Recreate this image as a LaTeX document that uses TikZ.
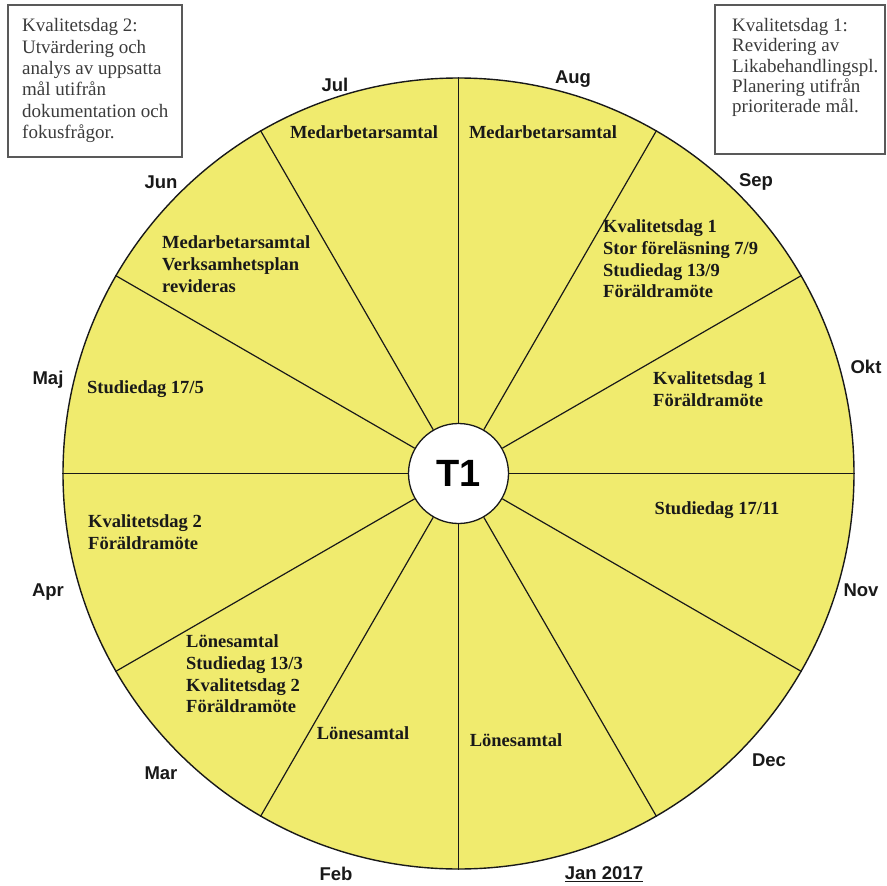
\documentclass[tikz,border=0pt]{standalone}
\usepackage{fontspec}
\setmainfont{Liberation Serif}
\setsansfont{Liberation Sans}
\definecolor{wheelyellow}{RGB}{240,235,110}
\definecolor{inkc}{RGB}{25,25,25}
\tikzset{
  monthlbl/.style={font=\sffamily\bfseries\fontsize{18.5}{22}\selectfont, text=inkc, inner sep=0pt},
  sectortxt/.style={font=\bfseries\fontsize{18.5}{21.7}\selectfont, text=inkc, inner sep=0pt, align=left},
  boxtxt/.style={font=\fontsize{19}{21.4}\selectfont, text=inkc!85, inner sep=0pt, align=left, anchor=north west},
  notebox/.style={draw=black!65, line width=2pt},
  spoke/.style={draw=inkc, line width=1.2pt}
}
\begin{document}
\begin{tikzpicture}[x=1pt,y=-1pt]
\useasboundingbox (0,0) rectangle (887,886);
% wheel
\node[circle, minimum size=791pt, inner sep=0pt, fill=wheelyellow, draw=inkc, line width=1.4pt] (wheel) at (458.5,473.5) {};
\node[circle, minimum size=100pt, inner sep=0pt, fill=white, draw=inkc, line width=1.3pt,
      font=\sffamily\bfseries\fontsize{38}{40}\selectfont] (hub) at (458.5,473.5) {T1};
\foreach \a in {0,30,...,330} \draw[spoke] (hub.\a) -- (wheel.\a);
% month labels
\node[monthlbl] (jul) at (335,85) {Jul};
\node[monthlbl] (aug) at (573,79) {Aug};
\node[monthlbl] (sep) at (756,182) {Sep};
\node[monthlbl] (okt) at (866,367) {Okt};
\node[monthlbl] (nov) at (861,590) {Nov};
\node[monthlbl] (dec) at (769,760) {Dec};
\node[monthlbl] (jan) at (604,874) {\underline{Jan 2017}};
\node[monthlbl] (feb) at (336,874) {Feb};
\node[monthlbl] (mar) at (161,773) {Mar};
\node[monthlbl] (apr) at (48,592) {Apr};
\node[monthlbl] (maj) at (48,380) {Maj};
\node[monthlbl] (jun) at (161,182) {Jun};
% sector texts
\node[sectortxt, anchor=base] (tjul) at (364,138) {Medarbetarsamtal};
\node[sectortxt, anchor=base] (taug) at (543,138) {Medarbetarsamtal};
\node[sectortxt, anchor=north west] (tsep) at (603,219.6) {Kvalitetsdag 1\\Stor föreläsning 7/9\\Studiedag 13/9\\Föräldramöte};
\node[sectortxt, anchor=north west] (tokt) at (653,371.6) {Kvalitetsdag 1\\Föräldramöte};
\node[sectortxt, anchor=base] (tnov) at (717,514) {Studiedag 17/11};
\node[sectortxt, anchor=base] (tjan) at (516,746) {Lönesamtal};
\node[sectortxt, anchor=base] (tfeb) at (363,739) {Lönesamtal};
\node[sectortxt, anchor=north west] (tmar) at (186,634.6) {Lönesamtal\\Studiedag 13/3\\Kvalitetsdag 2\\Föräldramöte};
\node[sectortxt, anchor=north west] (tapr) at (88,514.6) {Kvalitetsdag 2\\Föräldramöte};
\node[sectortxt, anchor=north west] (tmaj) at (87,380.6) {Studiedag 17/5};
\node[sectortxt, anchor=north west] (tjun) at (162,235.6) {Medarbetarsamtal\\Verksamhetsplan\\revideras};
% note boxes
\draw[notebox] (8,5) rectangle (182,157);
\node[boxtxt] (leftnote) at (22,18.3) {Kvalitetsdag 2:\\Utvärdering och\\analys av uppsatta\\mål utifrån\\dokumentation och\\fokusfrågor.};
\draw[notebox] (715,5) rectangle (885,154);
\node[boxtxt, font=\fontsize{19}{20.3}\selectfont] (rightnote) at (732,18.3) {Kvalitetsdag 1:\\Revidering av\\Likabehandlingspl.\\Planering utifrån\\prioriterade mål.};
\end{tikzpicture}
\end{document}
